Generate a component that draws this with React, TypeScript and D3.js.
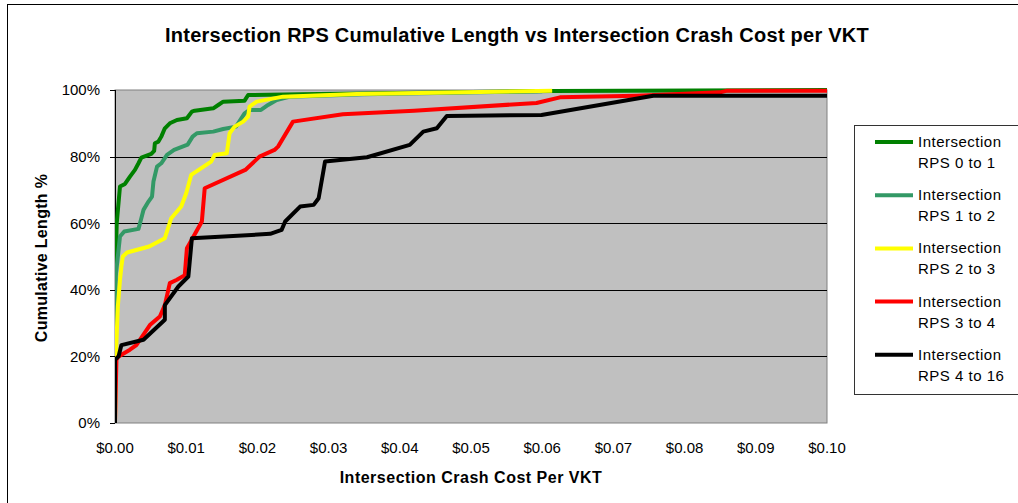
import React from 'react'
import * as d3 from 'd3'

// crash cost per VKT ($) and cumulative length (%)
const rps01Cost = [0, 0, 0.00024, 0.0007, 0.0014, 0.0021, 0.0028, 0.0033, 0.0037, 0.0051, 0.0055, 0.0056, 0.0061, 0.0065, 0.007, 0.0077, 0.0087, 0.0101, 0.0108, 0.0112, 0.0138, 0.0145, 0.0152, 0.0182, 0.0187, 0.026, 0.0614, 0.1]
const rps01Pct = [0, 40, 60, 71, 71.8, 74, 76, 78, 79.7, 80.8, 81.7, 84, 84.5, 86, 88.5, 90, 91, 91.5, 93.5, 93.8, 94.5, 95.5, 96.5, 96.8, 98.5, 98.7, 99.7, 100]

const rps12Cost = [0, 0.0001, 0.0007, 0.0013, 0.0033, 0.0037, 0.004, 0.0047, 0.0052, 0.0054, 0.0059, 0.0065, 0.0073, 0.0083, 0.0102, 0.0109, 0.0115, 0.0138, 0.0152, 0.017, 0.0182, 0.0189, 0.0205, 0.0215, 0.0227, 0.0246, 0.035, 0.06]
const rps12Pct = [0, 44, 56, 57.5, 58.3, 61.5, 64, 66.5, 68, 72.5, 77, 78, 80.5, 82, 83.6, 86, 87, 87.5, 88.3, 89, 93, 94, 94, 95.5, 97, 98, 98.7, 99.6]

const rps23Cost = [0, 0.0001, 0.0004, 0.0007, 0.0009, 0.0011, 0.0017, 0.0048, 0.007, 0.0079, 0.0093, 0.01, 0.0107, 0.0135, 0.014, 0.0157, 0.0161, 0.0168, 0.018, 0.0187, 0.0189, 0.0199, 0.0236, 0.034, 0.0614]
const rps23Pct = [0, 19, 35, 43, 47, 50, 51.2, 53, 55.5, 61.5, 65, 69, 74.5, 78.5, 80.5, 81, 87, 89, 90.5, 92, 95, 96.5, 98, 98.8, 99.8]

const rps34Cost = [0, 0.0002, 0.0005, 0.0021, 0.003, 0.0049, 0.0063, 0.007, 0.0077, 0.0087, 0.0098, 0.0101, 0.0105, 0.0122, 0.0126, 0.0183, 0.0203, 0.0224, 0.0229, 0.025, 0.032, 0.042, 0.0569, 0.0592, 0.0625, 0.0733, 0.085, 0.086, 0.1]
const rps34Pct = [0, 19, 20, 22, 23.4, 29.4, 32, 35.4, 42, 43, 44.4, 52.5, 54, 60.5, 70.5, 76, 80, 82, 83, 90.5, 92.7, 93.8, 95.8, 96.1, 97.8, 98.3, 99.3, 99.8, 99.8]

const rps416Cost = [0, 0, 0.0005, 0.0009, 0.004, 0.007, 0.007, 0.0089, 0.0103, 0.0108, 0.0218, 0.0234, 0.0239, 0.026, 0.0279, 0.0286, 0.0295, 0.0354, 0.0414, 0.0433, 0.0452, 0.0466, 0.0599, 0.0756, 0.1]
const rps416Pct = [0, 19, 20, 23.4, 25, 31, 35.4, 41, 44, 55.5, 56.8, 58, 60.5, 65, 65.5, 67.5, 78.5, 79.8, 83.5, 87.5, 88.5, 92.2, 92.5, 98.3, 98.3]

const seriesNames = ['Intersection RPS 0 to 1', 'Intersection RPS 1 to 2', 'Intersection RPS 2 to 3', 'Intersection RPS 3 to 4', 'Intersection RPS 4 to 16']
const seriesColors = ['#008000', '#339966', '#FFFF00', '#FF0000', '#000000']
const seriesCost = [rps01Cost, rps12Cost, rps23Cost, rps34Cost, rps416Cost]
const seriesPct = [rps01Pct, rps12Pct, rps23Pct, rps34Pct, rps416Pct]

const xTicks = [0, 0.01, 0.02, 0.03, 0.04, 0.05, 0.06, 0.07, 0.08, 0.09, 0.1]
const yTicks = [0, 20, 40, 60, 80, 100]

const WIDTH = 1018
const HEIGHT = 503
const PLOT = { left: 115, right: 827, top: 90, bottom: 423 }
const FONT = '"Liberation Sans", Arial, sans-serif'

const App = () => {
  const x = d3.scaleLinear().domain([0, 0.1]).range([PLOT.left, PLOT.right])
  const y = d3.scaleLinear().domain([0, 100]).range([PLOT.bottom, PLOT.top])

  const line = d3.line<[number, number]>()
    .x(d => x(d[0]))
    .y(d => y(d[1]))

  return (
    <div style={{ position: 'absolute', left: 0, top: 0 }}>
      <svg width={WIDTH} height={HEIGHT} style={{ display: 'block', background: '#fff' }} fontFamily={FONT}>
        <rect x={7.5} y={4.5} width={1100} height={600} fill="#fff" stroke="#000" />

        <text x={517} y={42} textAnchor="middle" fontWeight="bold" fontSize={20} letterSpacing={0.25}>
          Intersection RPS Cumulative Length vs Intersection Crash Cost per VKT
        </text>

        <rect x={PLOT.left} y={PLOT.top} width={PLOT.right - PLOT.left} height={PLOT.bottom - PLOT.top}
          fill="#C0C0C0" stroke="#808080" />

        {yTicks.filter(t => t > 0 && t < 100).map(t => (
          <line key={t} x1={PLOT.left} x2={PLOT.right} y1={Math.round(y(t)) + 0.5} y2={Math.round(y(t)) + 0.5} stroke="#000" />
        ))}

        <line x1={PLOT.left + 0.5} x2={PLOT.left + 0.5} y1={PLOT.top} y2={PLOT.bottom} stroke="#000" />
        {yTicks.map(t => (
          <g key={t}>
            <line x1={PLOT.left - 5} x2={PLOT.left} y1={Math.round(y(t)) + 0.5} y2={Math.round(y(t)) + 0.5} stroke="#000" />
            <text x={100} y={y(t)} dy="0.36em" textAnchor="end" fontSize={15}>{t}%</text>
          </g>
        ))}

        {xTicks.map(t => (
          <text key={t} x={x(t)} y={453} textAnchor="middle" fontSize={15}>${t.toFixed(2)}</text>
        ))}

        <defs>
          <clipPath id="plot-clip">
            <rect x={PLOT.left} y={PLOT.top - 3} width={PLOT.right - PLOT.left + 1} height={PLOT.bottom - PLOT.top + 6} />
          </clipPath>
        </defs>

        <g clipPath="url(#plot-clip)">
          {seriesNames.map((name, i) => (
            <path key={name}
              d={line(seriesCost[i].map((c, j) => [c, seriesPct[i][j]] as [number, number])) || ''}
              fill="none" stroke={seriesColors[i]} strokeWidth={4} strokeLinejoin="round" strokeLinecap="butt" />
          ))}
        </g>

        <text x={471} y={483} textAnchor="middle" fontWeight="bold" fontSize={16} letterSpacing={0.5}>
          Intersection Crash Cost Per VKT
        </text>
        <text transform="translate(47, 258) rotate(-90)" textAnchor="middle" fontWeight="bold" fontSize={16} letterSpacing={0.3}>
          Cumulative Length %
        </text>

        <rect x={854.5} y={125.5} width={200} height={269} fill="#fff" stroke="#333" />
        {seriesNames.map((name, i) => {
          const cy = 142 + i * 53.2
          const words = name.split(' ')
          return (
            <g key={name}>
              <line x1={875} x2={913} y1={cy} y2={cy} stroke={seriesColors[i]} strokeWidth={4} />
              <text x={918} y={cy + 5} fontSize={15} letterSpacing={0.5}>{words[0]}</text>
              <text x={918} y={cy + 26} fontSize={15} letterSpacing={0.5}>{words.slice(1).join(' ')}</text>
            </g>
          )
        })}
      </svg>
    </div>
  )
}

export default App
